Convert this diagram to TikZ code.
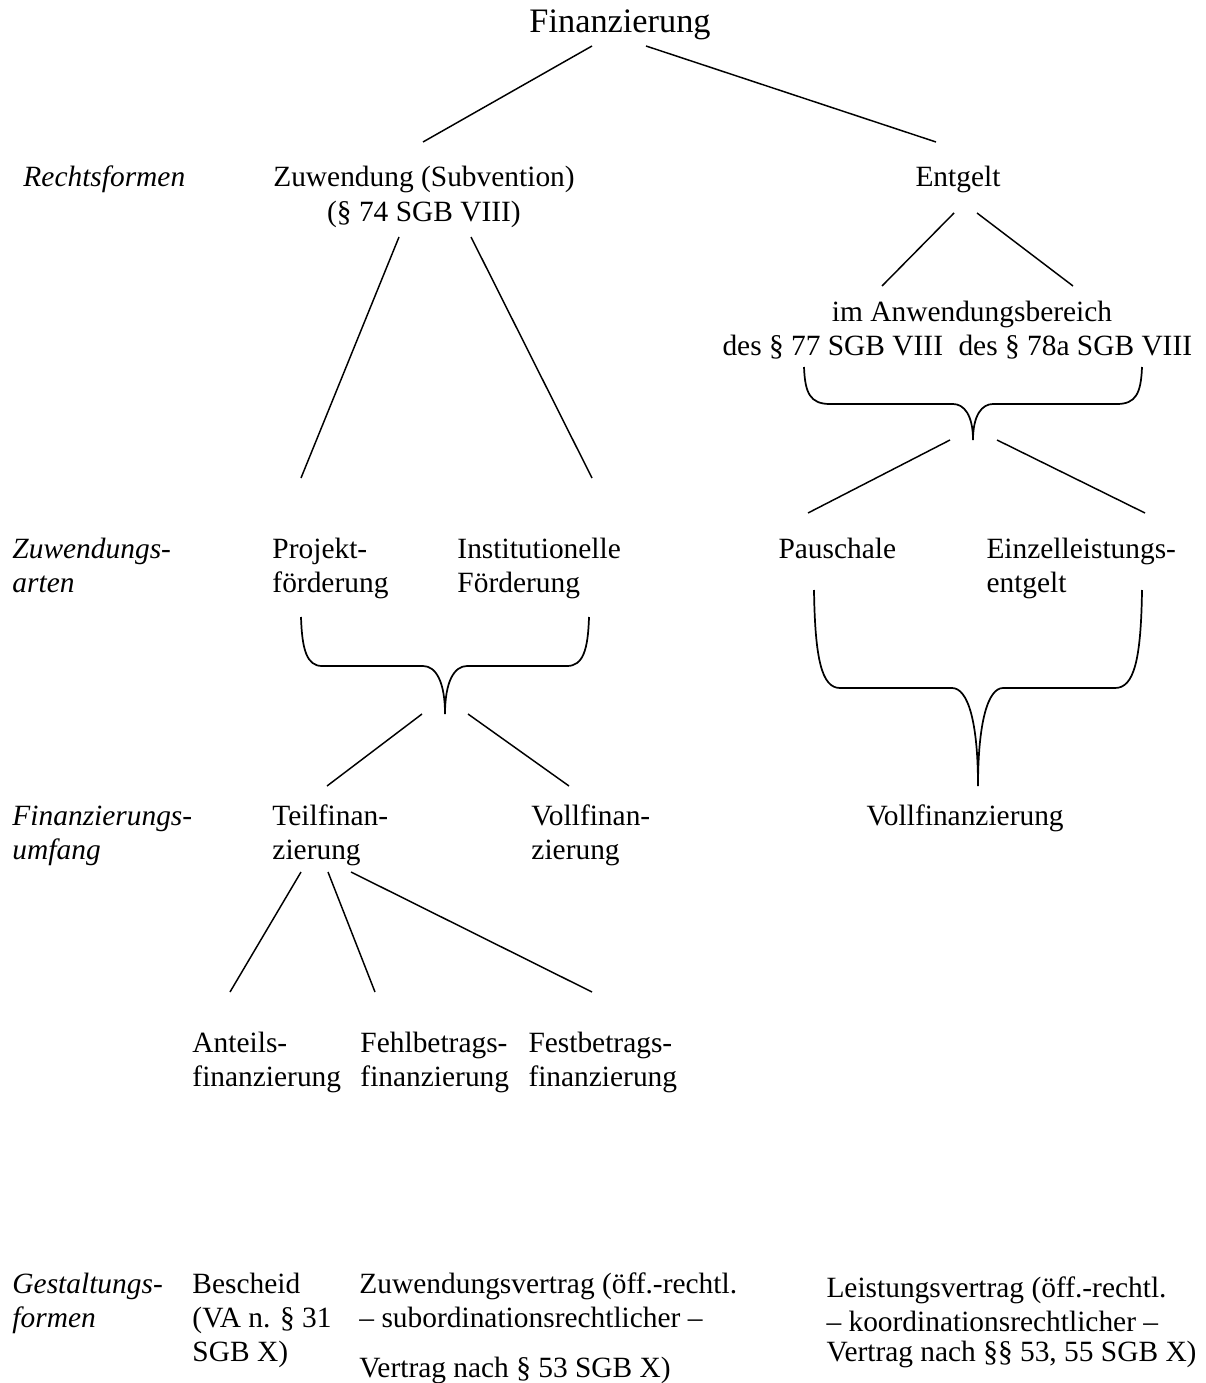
\documentclass[tikz,border=0pt]{standalone}
\usepackage{fontspec}
\setmainfont{Liberation Serif}
\newcommand\stackL[1]{\vtop{\halign{##\hfil\cr#1\crcr}}}
\newcommand\stackC[1]{\vtop{\halign{\hfil##\hfil\cr#1\crcr}}}
\begin{document}
\begin{tikzpicture}[x=0.408pt,y=-0.408pt,
  lbl/.style={inner sep=0pt, anchor=base west, font=\fontsize{12}{13.9}\selectfont},
  cat/.style={inner sep=0pt, anchor=base west, font=\fontsize{12}{13.9}\selectfont\itshape},
  con/.style={line width=0.6pt},
  brace/.style={line width=0.7pt, line join=round}]
\useasboundingbox (0,0) rectangle (1205,1383);

% ---------- texts ----------
\node[inner sep=0pt, anchor=base west, font=\fontsize{14}{16}\selectfont] (fin) at (529,33) {Finanzierung};

\node[cat] (rf) at (23,187) {Rechtsformen};
\node[lbl, anchor=base] (zuw) at (424,187) {\stackC{Zuwendung (Subvention)\cr(§ 74 SGB VIII)}};
\node[lbl] (ent) at (915,187) {Entgelt};

\node[lbl, anchor=base] (anw) at (972,322) {im Anwendungsbereich};
\node[lbl] (d77) at (722,355) {des § 77 SGB VIII};
\node[lbl] (d78) at (958,355) {des § 78a SGB VIII};

\node[cat] (za) at (12,558) {\stackL{Zuwendungs-\cr arten}};
\node[lbl] (pf) at (272,558) {\stackL{Projekt-\cr förderung}};
\node[lbl] (if) at (457,558) {\stackL{Institutionelle\cr Förderung}};
\node[lbl] (pau) at (778,558) {Pauschale};
\node[lbl] (eze) at (986,558) {\stackL{Einzelleistungs-\cr entgelt}};

\node[cat] (fu) at (12,825) {\stackL{Finanzierungs-\cr umfang}};
\node[lbl] (tf) at (272,825) {\stackL{Teilfinan-\cr zierung}};
\node[lbl] (vf) at (531,825) {\stackL{Vollfinan-\cr zierung}};
\node[lbl] (vfr) at (866,825) {Vollfinanzierung};

\node[lbl] (af) at (192,1052) {\stackL{Anteils-\cr finanzierung}};
\node[lbl] (fbf) at (360,1052) {\stackL{Fehlbetrags-\cr finanzierung}};
\node[lbl] (fsf) at (528,1052) {\stackL{Festbetrags-\cr finanzierung}};

\node[cat] (gf) at (12,1293) {\stackL{Gestaltungs-\cr formen}};
\node[lbl] (bes) at (192,1293) {\stackL{Bescheid\cr (VA n. § 31\cr SGB X)}};
\node[lbl] (zv) at (359,1293) {\stackL{Zuwendungsvertrag (öff.-rechtl.\cr – subordinationsrechtlicher –\cr\noalign{\vskip 6.5pt}Vertrag nach § 53 SGB X)}};
\node[lbl] (lv) at (826,1297) {\stackL{Leistungsvertrag (öff.-rechtl.\cr – koordinationsrechtlicher –\cr\noalign{\vskip -1.6pt}Vertrag nach §§ 53, 55 SGB X)}};

% ---------- connector end points ----------
\coordinate (fin-l) at (592,46);   \coordinate (zuw-t) at (423,142);
\coordinate (fin-r) at (646,46);   \coordinate (ent-t) at (936,142);
\coordinate (zuw-l) at (399,237);  \coordinate (pf-t) at (301,478);
\coordinate (zuw-r) at (471,237);  \coordinate (if-t) at (592,478);
\coordinate (ent-l) at (954,213);  \coordinate (anw-l) at (882,286);
\coordinate (ent-r) at (977,213);  \coordinate (anw-r) at (1073,286);
\coordinate (b1-tip) at (973,440);
\coordinate (b1-l) at (950,440);   \coordinate (pau-t) at (808,513);
\coordinate (b1-r) at (997,440);   \coordinate (eze-t) at (1145,513);
\coordinate (b2-tip) at (445,714);
\coordinate (b2-l) at (422,714);   \coordinate (tf-t) at (327,786);
\coordinate (b2-r) at (468,714);   \coordinate (vf-t) at (569,786);
\coordinate (b3-tip) at (978,786);
\coordinate (tf-b1) at (301,872);  \coordinate (af-t) at (230,992);
\coordinate (tf-b2) at (328,872);  \coordinate (fbf-t) at (375,992);
\coordinate (tf-b3) at (351,872);  \coordinate (fsf-t) at (592,992);

% ---------- connectors ----------
\draw[con] (fin-l) -- (zuw-t);
\draw[con] (fin-r) -- (ent-t);
\draw[con] (zuw-l) -- (pf-t);
\draw[con] (zuw-r) -- (if-t);
\draw[con] (ent-l) -- (anw-l);
\draw[con] (ent-r) -- (anw-r);
\draw[con] (b1-l) -- (pau-t);
\draw[con] (b1-r) -- (eze-t);
\draw[con] (b2-l) -- (tf-t);
\draw[con] (b2-r) -- (vf-t);
\draw[con] (tf-b1) -- (af-t);
\draw[con] (tf-b2) -- (fbf-t);
\draw[con] (tf-b3) -- (fsf-t);

% ---------- braces ----------
\draw[brace] (804,367) .. controls (805,393) and (810,404) .. (830,404) -- (953,404)
  .. controls (964,404) and (973,415) .. (b1-tip)
  (1142,367) .. controls (1141,393) and (1136,404) .. (1117,404) -- (993,404)
  .. controls (982,404) and (973,415) .. (b1-tip);
\draw[brace] (301,617) .. controls (302,650) and (307,666) .. (322,666) -- (423,666)
  .. controls (436,666) and (445,682) .. (b2-tip)
  (589,617) .. controls (588,650) and (583,666) .. (567,666) -- (467,666)
  .. controls (454,666) and (445,682) .. (b2-tip);
\draw[brace] (814,590) .. controls (815,660) and (822,688) .. (840,688) -- (952,688)
  .. controls (968,688) and (978,722) .. (b3-tip)
  (1142,590) .. controls (1141,660) and (1134,688) .. (1115,688) -- (1003,688)
  .. controls (988,688) and (978,722) .. (b3-tip);
\end{tikzpicture}
\end{document}
